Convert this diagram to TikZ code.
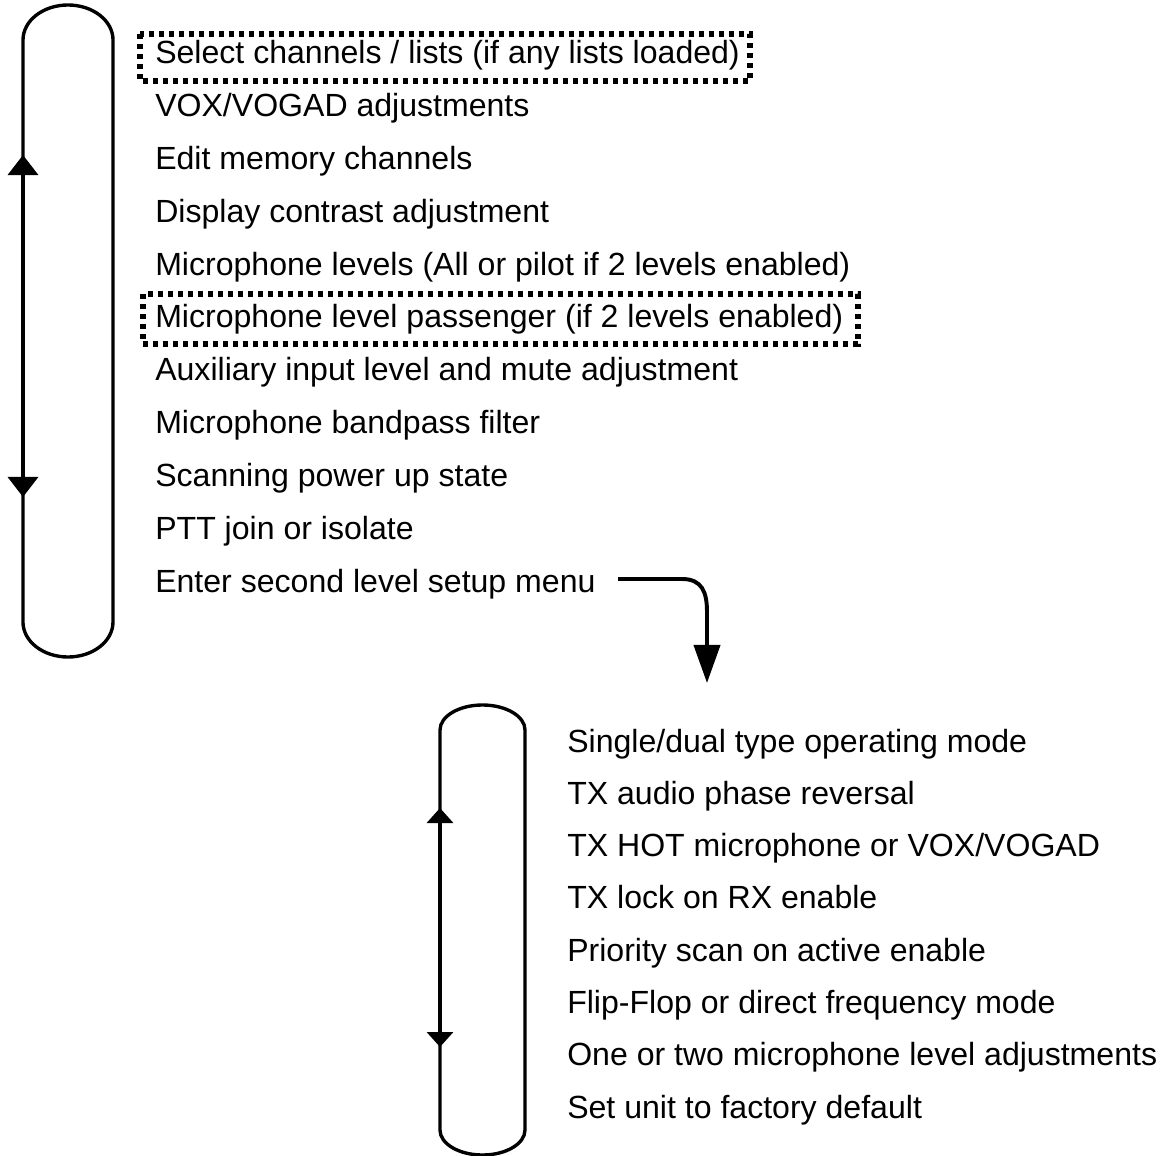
\documentclass[tikz,border=0pt]{standalone}
\usepackage{fontspec}
\setmainfont{Liberation Sans}
\usepackage{tikz}
\usetikzlibrary{arrows.meta}

\tikzset{
    item/.style={anchor=base west, inner sep=0pt, font=\fontsize{22.8}{27}\selectfont},
    loopline/.style={line width=2.4pt, black},
    dotbox/.style={line width=0.135cm, dash pattern=on 0.125cm off 0.125cm},
}

\begin{document}
\begin{tikzpicture}[x=0.025cm, y=-0.025cm]
        \useasboundingbox (0,0) rectangle (1160,1156);
        % first level menu
        \draw[loopline] (23,622) -- (23,40) arc[start angle=180, end angle=0, x radius=1.125cm, y radius=0.875cm]
            -- (113,622) arc[start angle=0, end angle=-180, x radius=1.125cm, y radius=0.875cm];
        \draw[loopline, {Triangle[width=0.75cm,length=0.5cm]}-{Triangle[width=0.75cm,length=0.5cm]}] (23,155) -- (23,497);
        \node[item] (m1) at (155,64) {Select channels / lists (if any lists loaded)};
        \node[item] (m2) at (155,116.8) {VOX/VOGAD adjustments};
        \node[item] (m3) at (155,169.6) {Edit memory channels};
        \node[item] (m4) at (155,222.4) {Display contrast adjustment};
        \node[item] (m5) at (155,275.2) {Microphone levels (All or pilot if 2 levels enabled)};
        \node[item] (m6) at (155,328) {Microphone level passenger (if 2 levels enabled)};
        \node[item] (m7) at (155,380.8) {Auxiliary input level and mute adjustment};
        \node[item] (m8) at (155,433.6) {Microphone bandpass filter};
        \node[item] (m9) at (155,486.4) {Scanning power up state};
        \node[item] (m10) at (155,539.2) {PTT join or isolate};
        \node[item] (m11) at (155,592) {Enter second level setup menu};
        \draw[dotbox] (140,34) rectangle (750,81);
        \draw[dotbox] (143,294) rectangle (858,344);
        % link to second level
        \coordinate (go) at (618,579);
        \coordinate (sub) at (707,683);
        \draw[line width=2.8pt, -{Triangle[width=0.65cm,length=0.95cm]}] (go) -- (682,579)
            .. controls (702,579) and (707,592) .. (707,612) -- (sub);
        % second level menu
        \draw[loopline] (440,1130) -- (440,730) arc[start angle=180, end angle=0, x radius=1.0625cm, y radius=0.625cm]
            -- (525,1130) arc[start angle=0, end angle=-180, x radius=1.0625cm, y radius=0.625cm];
        \draw[loopline, {Triangle[width=0.65cm,length=0.375cm]}-{Triangle[width=0.65cm,length=0.375cm]}] (440,808) -- (440,1047);
        \node[item] (s1) at (567,752) {Single/dual type operating mode};
        \node[item] (s2) at (567,804.3) {TX audio phase reversal};
        \node[item] (s3) at (567,856.6) {TX HOT microphone or VOX/VOGAD};
        \node[item] (s4) at (567,908.9) {TX lock on RX enable};
        \node[item] (s5) at (567,961.2) {Priority scan on active enable};
        \node[item] (s6) at (567,1013.5) {Flip-Flop or direct frequency mode};
        \node[item] (s7) at (567,1065.8) {One or two microphone level adjustments};
        \node[item] (s8) at (567,1118) {Set unit to factory default};
    \end{tikzpicture}
\end{document}
